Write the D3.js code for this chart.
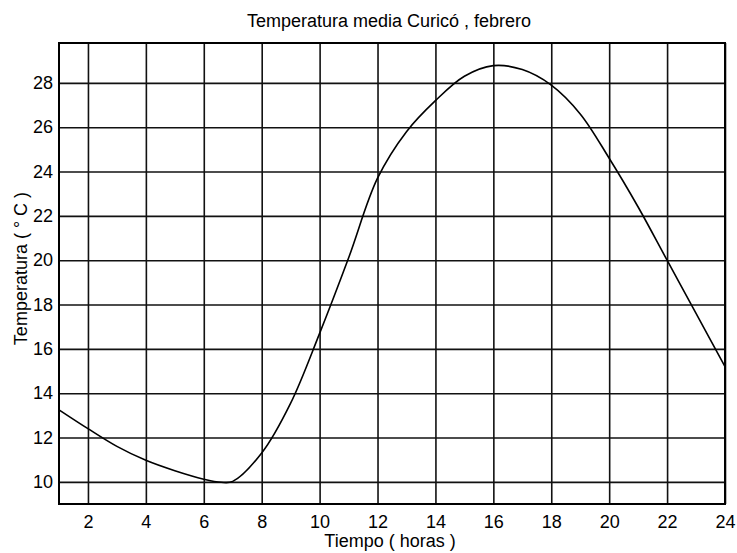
<!DOCTYPE html>
<html>
<head>
<meta charset="utf-8">
<script src="https://cdn.jsdelivr.net/npm/d3@7"></script>
<style>
  body { margin: 0; background: #fff; }
  text { font-family: "Liberation Sans", Arial, sans-serif; fill: #000; }
</style>
</head>
<body>
<div id="chart"></div>
<script>
// hourly mean temperature
const hours = [1, 2, 3, 4, 5, 6, 6.6, 7, 8, 9, 10, 11, 12, 13, 14, 15, 16, 17, 18, 19, 20, 21, 22, 23, 24];
const temps = [13.25, 12.4, 11.6, 10.97, 10.5, 10.12, 9.98, 10.02, 11.3, 13.55, 16.7, 20.1, 23.7, 25.8, 27.2, 28.3, 28.78, 28.6, 27.9, 26.6, 24.6, 22.4, 20.0, 17.6, 15.2];
const xTicks = [2, 4, 6, 8, 10, 12, 14, 16, 18, 20, 22, 24];
const yTicks = [10, 12, 14, 16, 18, 20, 22, 24, 26, 28];

const data = hours.map((h, i) => ({ h, t: temps[i] }));

// set the dimensions and margins of the graph
const margin = { top: 43, right: 12, bottom: 49, left: 59 };
const width = 737 - margin.left - margin.right;
const height = 553 - margin.top - margin.bottom;

const svg = d3.select('#chart').append('svg')
  .attr('width', 737)
  .attr('height', 553);

const g = svg.append('g')
  .attr('transform', `translate(${margin.left}, ${margin.top})`);

const x = d3.scaleLinear().domain([1, 24]).range([0, width]);
const y = d3.scaleLinear().domain([9, 29.8]).range([height, 0]);

// grid
g.append('g')
  .attr('transform', `translate(0, ${height})`)
  .call(d3.axisBottom(x).tickValues(xTicks).tickSize(-height).tickFormat(''))
  .call((s) => s.select('.domain').remove())
  .selectAll('line').attr('stroke', '#111').attr('stroke-width', 1.6);

g.append('g')
  .call(d3.axisLeft(y).tickValues(yTicks).tickSize(-width).tickFormat(''))
  .call((s) => s.select('.domain').remove())
  .selectAll('line').attr('stroke', '#111').attr('stroke-width', 1.6);

// tick labels
g.append('g')
  .attr('transform', `translate(0, ${height})`)
  .call(d3.axisBottom(x).tickValues(xTicks).tickSize(0).tickPadding(9))
  .call((s) => s.select('.domain').remove())
  .selectAll('text')
  .style('font-size', '18px')
  .attr('dy', '0.85em');

g.append('g')
  .call(d3.axisLeft(y).tickValues(yTicks).tickSize(0).tickPadding(6))
  .call((s) => s.select('.domain').remove())
  .selectAll('text')
  .style('font-size', '18px');

// frame
g.append('rect')
  .attr('width', width)
  .attr('height', height)
  .attr('fill', 'none')
  .attr('stroke', '#000')
  .attr('stroke-width', 2);

// add the line
const valueLine = d3.line()
  .curve(d3.curveCatmullRom.alpha(0.5))
  .x((d) => x(d.h))
  .y((d) => y(d.t));

g.append('path')
  .datum(data)
  .attr('fill', 'none')
  .attr('stroke', '#000')
  .attr('stroke-width', 1.6)
  .attr('d', valueLine);

// titles
svg.append('text')
  .attr('x', margin.left + width / 2 - 3)
  .attr('y', 27)
  .attr('text-anchor', 'middle')
  .style('font-size', '18px')
  .text('Temperatura media Curicó , febrero');

svg.append('text')
  .attr('x', margin.left + width / 2 - 2)
  .attr('y', 547)
  .attr('text-anchor', 'middle')
  .style('font-size', '18px')
  .text('Tiempo ( horas )');

svg.append('text')
  .attr('transform', `translate(27, ${margin.top + height / 2 - 5}) rotate(-90)`)
  .attr('text-anchor', 'middle')
  .style('font-size', '18px')
  .text('Temperatura ( ° C )');
</script>
</body>
</html>
